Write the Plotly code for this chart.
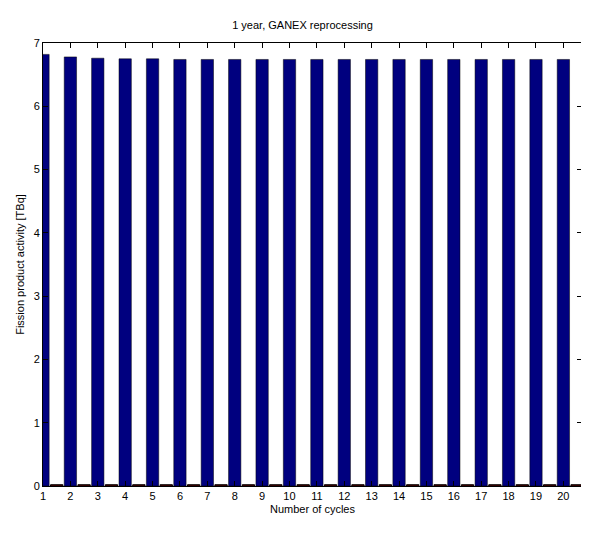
import plotly.graph_objects as go

cycles = list(range(1, 21))
activity = [6.82, 6.78, 6.76, 6.75, 6.75, 6.74, 6.74, 6.74, 6.74, 6.74,
            6.74, 6.74, 6.74, 6.74, 6.74, 6.74, 6.74, 6.74, 6.74, 6.74]
second = [0.02] * 20

fig = go.Figure()
fig.add_bar(x=cycles, y=activity, width=0.45, marker=dict(color="#00007f", line=dict(color="black", width=0.5)))
fig.add_bar(x=[c + 0.5 for c in cycles], y=second, width=0.45, marker=dict(color="#7f0000", line=dict(color="black", width=1)))
fig.update_layout(
    width=589, height=535, showlegend=False, barmode="overlay",
    paper_bgcolor="white", plot_bgcolor="white",
    margin=dict(l=35, r=15, t=35, b=57, autoexpand=False),
    font=dict(family="Liberation Sans", size=11, color="black"),
    title=dict(text="1 year, GANEX reprocessing", x=0.5, xanchor="center", y=0.975, font=dict(size=11)),
)
axcommon = dict(showline=True, linecolor="black", linewidth=1, mirror="ticks", ticks="inside",
                ticklen=5, tickcolor="black", showgrid=False, zeroline=False, automargin=False)
fig.update_xaxes(range=[1, 20.68], tickvals=cycles, title=dict(text="Number of cycles", standoff=4, font=dict(size=11)), **axcommon)
fig.update_yaxes(range=[0, 7], dtick=1, title=dict(text="Fission product activity [TBq]", standoff=6, font=dict(size=11)), **axcommon)
fig.write_html("out.html")
